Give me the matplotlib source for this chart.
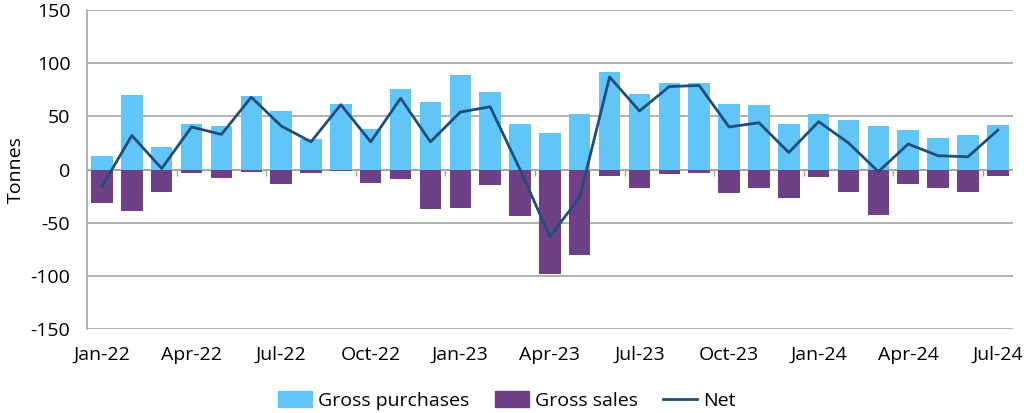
import matplotlib
matplotlib.use('Agg')
import matplotlib.pyplot as plt
import numpy as np

plt.rcParams['font.family'] = ['Open Sans', 'DejaVu Sans']
plt.rcParams['axes.unicode_minus'] = False

# Monthly data, Jan-22 .. Jul-24
months = ['Jan-22', 'Feb-22', 'Mar-22', 'Apr-22', 'May-22', 'Jun-22',
          'Jul-22', 'Aug-22', 'Sep-22', 'Oct-22', 'Nov-22', 'Dec-22',
          'Jan-23', 'Feb-23', 'Mar-23', 'Apr-23', 'May-23', 'Jun-23',
          'Jul-23', 'Aug-23', 'Sep-23', 'Oct-23', 'Nov-23', 'Dec-23',
          'Jan-24', 'Feb-24', 'Mar-24', 'Apr-24', 'May-24', 'Jun-24',
          'Jul-24']
gross_purchases = [13, 70, 21, 43, 41, 69, 55, 29, 62, 38, 76, 63,
                   89, 73, 43, 34, 52, 92, 71, 81, 81, 62, 61, 43,
                   52, 47, 41, 37, 30, 32, 42]
gross_sales = [-31, -39, -21, -3, -8, -2, -14, -3, -1, -13, -9, -37,
               -36, -15, -44, -98, -80, -6, -17, -4, -3, -22, -17, -27,
               -7, -21, -43, -14, -17, -21, -6]
net = [-16, 32, 1, 40, 33, 68, 41, 26, 61, 26, 67, 26,
       54, 59, 0, -63, -26, 87, 55, 78, 79, 40, 44, 16,
       45, 25, -2, 24, 13, 12, 37]

c_buy = '#62C5F8'
c_sell = '#6E4187'
c_net = '#1F4E79'

x = np.arange(len(months))

fig = plt.figure(figsize=(10.24, 4.13), dpi=100)
ax = fig.add_axes([0.085, 0.203, 0.904, 0.773])

ax.bar(x, gross_purchases, width=0.72, color=c_buy, zorder=2)
ax.bar(x, gross_sales, width=0.72, color=c_sell, zorder=2)
ax.plot(x, net, color=c_net, lw=2, zorder=3)

ax.set_xlim(-0.5, len(months) - 0.5)
ax.set_ylim(-150, 150)
ax.set_yticks(np.arange(-150, 151, 50))
ax.yaxis.grid(True, color='#A6A6A6', lw=1.2, zorder=0)
ax.axhline(0, color='#A6A6A6', lw=1.2, zorder=1)

# small category ticks on the zero line, every quarter
ax.vlines(np.arange(2.5, len(months) - 1, 3), -6, 0, color='#A6A6A6', lw=1, zorder=1)

ax.set_xticks(x[::3])
ax.set_xticklabels(months[::3])
ax.tick_params(axis='both', length=0, labelsize=14, colors='black')
ax.tick_params(axis='x', pad=12)
ax.tick_params(axis='y', pad=12)

for s in ['top', 'right', 'bottom']:
    ax.spines[s].set_visible(False)
ax.spines['left'].set_color('#A6A6A6')
ax.spines['left'].set_linewidth(1.2)

ax.set_ylabel('Tonnes', fontsize=14, labelpad=4)

handles = [matplotlib.patches.Patch(color=c_buy),
           matplotlib.patches.Patch(color=c_sell),
           matplotlib.lines.Line2D([0], [0], color=c_net, lw=2)]
fig.legend(handles, ['Gross purchases', 'Gross sales', 'Net'],
           loc='lower center', bbox_to_anchor=(0.495, -0.035), ncol=3,
           frameon=False, fontsize=14, handlelength=1.75, handleheight=0.9,
           columnspacing=1.3, handletextpad=0.3)

fig.savefig('out.png', dpi=100)
